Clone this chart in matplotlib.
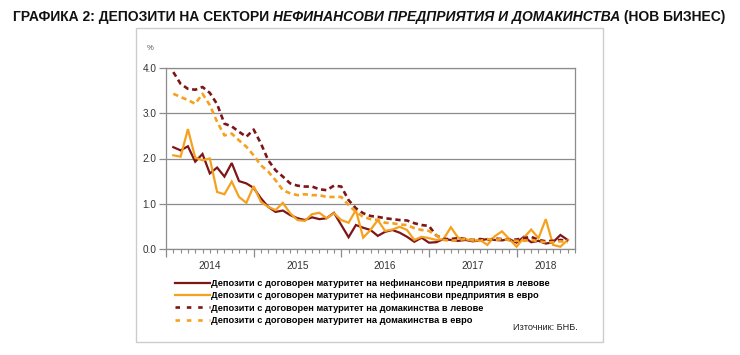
import numpy as np
import matplotlib
matplotlib.use("Agg")
import matplotlib.pyplot as plt
from matplotlib.lines import Line2D
from matplotlib.patches import Rectangle

# monthly values, Jan 2014 onwards (%)
years = ["2014", "2015", "2016", "2017", "2018"]

nfc_bgn = [2.25, 2.18, 2.27, 1.93, 2.10, 1.67, 1.80, 1.60, 1.90, 1.50, 1.45, 1.35,
           1.12, 0.93, 0.82, 0.85, 0.75, 0.68, 0.64, 0.70, 0.66, 0.68, 0.80, 0.53,
           0.26, 0.53, 0.47, 0.42, 0.29, 0.38, 0.42, 0.36, 0.27, 0.16, 0.25, 0.14,
           0.15, 0.22, 0.20, 0.18, 0.20, 0.17, 0.19, 0.22, 0.20, 0.19, 0.22, 0.14,
           0.27, 0.15, 0.18, 0.12, 0.15, 0.31, 0.20]
nfc_eur = [2.07, 2.04, 2.65, 2.02, 1.96, 2.00, 1.26, 1.21, 1.49, 1.15, 1.02, 1.39,
           1.04, 0.93, 0.86, 1.02, 0.79, 0.64, 0.62, 0.77, 0.80, 0.68, 0.79, 0.64,
           0.58, 0.86, 0.25, 0.42, 0.64, 0.40, 0.43, 0.49, 0.42, 0.20, 0.27, 0.24,
           0.20, 0.22, 0.48, 0.25, 0.22, 0.18, 0.20, 0.09, 0.28, 0.39, 0.22, 0.05,
           0.25, 0.43, 0.24, 0.66, 0.09, 0.05, 0.20]
hh_bgn = [3.91, 3.65, 3.54, 3.52, 3.58, 3.45, 3.20, 2.77, 2.71, 2.59, 2.48, 2.64,
          2.33, 1.96, 1.74, 1.60, 1.45, 1.40, 1.38, 1.38, 1.32, 1.30, 1.40, 1.38,
          1.08, 0.90, 0.79, 0.73, 0.71, 0.68, 0.66, 0.64, 0.63, 0.57, 0.53, 0.51,
          0.30, 0.22, 0.22, 0.24, 0.22, 0.20, 0.22, 0.20, 0.23, 0.22, 0.20, 0.21,
          0.24, 0.27, 0.20, 0.17, 0.18, 0.20, 0.18]
hh_eur = [3.43, 3.36, 3.29, 3.21, 3.43, 3.18, 2.81, 2.51, 2.55, 2.40, 2.26, 2.07,
          1.85, 1.71, 1.52, 1.30, 1.23, 1.19, 1.21, 1.19, 1.19, 1.15, 1.15, 1.15,
          0.97, 0.82, 0.71, 0.66, 0.64, 0.58, 0.57, 0.54, 0.53, 0.46, 0.42, 0.40,
          0.30, 0.20, 0.18, 0.20, 0.22, 0.20, 0.18, 0.22, 0.20, 0.22, 0.20, 0.18,
          0.18, 0.20, 0.17, 0.15, 0.15, 0.17, 0.15]

labels = ["Депозити с договорен матуритет на нефинансови предприятия в левове",
          "Депозити с договорен матуритет на нефинансови предприятия в евро",
          "Депозити с договорен матуритет на домакинства в левове",
          "Депозити с договорен матуритет на домакинства в евро"]

RED = "#7e1518"
ORANGE = "#f6a11e"
GRID = "#8c8c8c"

plt.rcParams["font.family"] = ["Liberation Sans", "DejaVu Sans"]

W, H = 740, 355
fig = plt.figure(figsize=(W / 100, H / 100), dpi=100)

# light frame round the chart block
fig.patches.append(Rectangle((136 / W, 1 - 342 / H), (603 - 136) / W, (342 - 28) / H,
                             transform=fig.transFigure, fill=False,
                             ec="#cccccc", lw=1))

ax = fig.add_axes([166 / W, 1 - 249 / H, (575 - 166) / W, (249 - 68) / H])

x = np.arange(1, len(nfc_bgn) + 1)
dash = (2.0, 1.4)
ax.plot(x, nfc_bgn, color=RED, lw=1.6, solid_joinstyle="miter")
ax.plot(x, nfc_eur, color=ORANGE, lw=1.6, solid_joinstyle="miter")
ax.plot(x, hh_bgn, color=RED, lw=1.9, dashes=dash, dash_capstyle="butt")
ax.plot(x, hh_eur, color=ORANGE, lw=1.9, dashes=dash, dash_capstyle="butt")

n_months = 12 * (len(years) - 1) + 8
ax.set_xlim(0, n_months)
ax.set_ylim(0, 4)
ax.set_yticks(np.arange(0, 4.01, 1.0))
ax.set_yticklabels(["%.1f" % v for v in np.arange(0, 4.01, 1.0)])
ax.yaxis.grid(True, color=GRID, lw=0.9)
ax.set_axisbelow(True)

ax.set_xticks(np.arange(0, n_months + 1, 12))
ax.set_xticks(np.arange(0, n_months + 1, 1), minor=True)
ax.set_xticklabels([])
ax.tick_params(axis="x", which="major", length=6, color=GRID, width=0.9)
ax.tick_params(axis="x", which="minor", length=3, color=GRID, width=0.8)
ax.tick_params(axis="y", length=5, color=GRID, width=0.9, labelsize=7.2,
               labelcolor="#333333", pad=2)
for s in ax.spines.values():
    s.set_color(GRID)
    s.set_linewidth(0.9)

for k, yr in enumerate(years):
    lo = 12 * k
    hi = min(12 * (k + 1), n_months)
    ax.text((lo + hi) / 2, -0.065, yr, transform=ax.get_xaxis_transform(),
            ha="center", va="top", fontsize=7.2, color="#333333")

fig.text(150 / W, 1 - 49 / H, "%", ha="center", va="center", fontsize=5.5,
         color="#555555")

handles = [Line2D([], [], color=RED, lw=1.6),
           Line2D([], [], color=ORANGE, lw=1.6),
           Line2D([], [], color=RED, lw=1.9, dashes=(1.7, 2.6), dash_capstyle="butt"),
           Line2D([], [], color=ORANGE, lw=1.9, dashes=(1.7, 2.6), dash_capstyle="butt")]
fig.legend(handles, labels, loc="upper left", bbox_to_anchor=(175 / W, 1 - 279 / H),
           frameon=False, borderpad=0, borderaxespad=0, handlelength=3.8,
           handletextpad=0.12, labelspacing=0.36,
           prop={"size": 6.7, "weight": "bold"})

fig.text(578 / W, 1 - 328 / H, "Източник: БНБ.", ha="right", va="center",
         fontsize=6.6, color="#222222")

# title in three pieces: plain bold, bold italic, plain bold
narrow = ["Liberation Sans Narrow", "Liberation Sans", "DejaVu Sans"]
parts = [("ГРАФИКА 2: ДЕПОЗИТИ НА СЕКТОРИ ", "normal"),
         ("НЕФИНАНСОВИ ПРЕДПРИЯТИЯ И ДОМАКИНСТВА", "italic"),
         (" (НОВ БИЗНЕС)", "normal")]
r = fig.canvas.get_renderer()
xpos = 13
for txt, st in parts:
    t = fig.text(xpos / W, 1 - 21 / H, txt, ha="left", va="baseline",
                 fontsize=10, weight="bold", style=st, family=narrow, color="#111111")
    xpos = t.get_window_extent(r).x1

fig.savefig("out.png", dpi=100)
